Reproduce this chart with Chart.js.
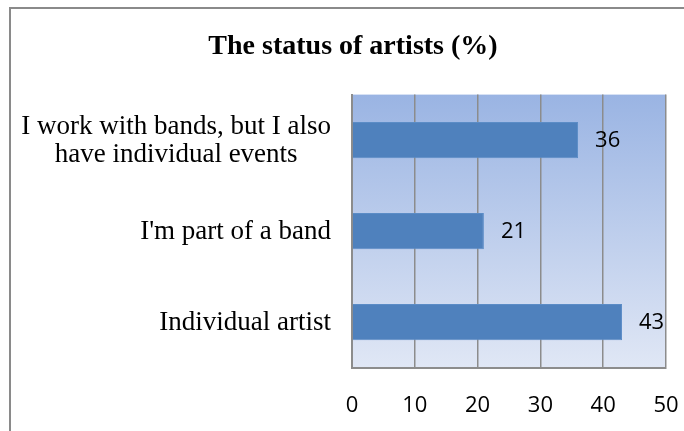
<!DOCTYPE html>
<html lang="en">
<head>
    <meta charset="UTF-8">
    <title>The status of artists (%)</title>
    <script src="https://cdn.jsdelivr.net/npm/chart.js"></script>
    <style>
        body {
            margin: 0;
            background: white;
            overflow: hidden;
        }
        .frame {
            position: absolute;
            left: 9px;
            top: 7px;
            width: 800px;
            height: 500px;
            border-left: 2px solid #8a8a8a;
            border-top: 2px solid #8a8a8a;
        }
        #statusChart {
            position: absolute;
            left: 0;
            top: 0;
        }
    </style>
</head>
<body>
    <div class="frame"></div>
    <canvas id="statusChart" width="706" height="431"></canvas>

    <script>
        const categories = [
            ["I work with bands, but I also", "have individual events"],
            "I'm part of a band",
            "Individual artist"
        ];
        const shares = [36, 21, 43];
        const xTicks = [0, 10, 20, 30, 40, 50];

        const gridColor = "#8c8c8c";

        // gradient behind the plot area
        const plotBackground = {
            id: "plotBackground",
            beforeDraw(chart) {
                const { ctx, chartArea: a } = chart;
                const g = ctx.createLinearGradient(0, a.top, 0, a.bottom);
                g.addColorStop(0, "#9ab4e3");
                g.addColorStop(1, "#e0e7f5");
                ctx.save();
                ctx.fillStyle = g;
                ctx.fillRect(a.left, a.top, a.right - a.left, a.bottom - a.top);
                ctx.restore();
            }
        };

        // category labels: right aligned, multi-line ones centred on their widest line
        const categoryLabels = {
            id: "categoryLabels",
            afterDraw(chart) {
                const { ctx } = chart;
                const yScale = chart.scales.y;
                const rightEdge = 331;
                const lineH = 28;
                ctx.save();
                ctx.font = "27px 'Liberation Serif'";
                ctx.fillStyle = "#000";
                ctx.textBaseline = "middle";
                ctx.textAlign = "center";
                chart.data.labels.forEach((label, i) => {
                    const lines = Array.isArray(label) ? label : [label];
                    const maxW = Math.max(...lines.map(l => ctx.measureText(l).width));
                    const cx = rightEdge - maxW / 2;
                    const cy = yScale.getPixelForValue(i);
                    lines.forEach((line, j) => {
                        ctx.fillText(line, cx, cy + 1 + (j - (lines.length - 1) / 2) * lineH);
                    });
                });
                ctx.restore();
            }
        };

        // value labels to the right of each bar
        const valueLabels = {
            id: "valueLabels",
            afterDatasetsDraw(chart) {
                const { ctx } = chart;
                const meta = chart.getDatasetMeta(0);
                ctx.save();
                ctx.font = "22px 'Open Sans'";
                ctx.fillStyle = "#000";
                ctx.textBaseline = "middle";
                ctx.textAlign = "left";
                meta.data.forEach((bar, i) => {
                    ctx.fillText(String(chart.data.datasets[0].data[i]), bar.x + 17, bar.y + 1);
                });
                ctx.restore();
            }
        };

        const ctx = document.getElementById("statusChart").getContext("2d");
        new Chart(ctx, {
            type: "bar",
            data: {
                labels: categories,
                datasets: [{
                    data: shares,
                    backgroundColor: "#4f81bd",
                    borderColor: "#5b8cc6",
                    borderWidth: 1,
                    categoryPercentage: 1,
                    barPercentage: 0.4
                }]
            },
            options: {
                indexAxis: "y",
                responsive: false,
                animation: false,
                layout: { padding: { left: 40, right: 40, top: 0, bottom: -13 } },
                plugins: {
                    legend: { display: false },
                    tooltip: { enabled: false },
                    title: {
                        display: true,
                        text: "The status of artists (%)",
                        color: "#000",
                        font: { family: "'Liberation Serif'", size: 28, weight: "bold" },
                        padding: { top: 30, bottom: 31 }
                    }
                },
                scales: {
                    x: {
                        min: 0,
                        max: 50,
                        afterBuildTicks(scale) {
                            scale.ticks = xTicks.map(v => ({ value: v }));
                        },
                        ticks: {
                            color: "#000",
                            font: { family: "'Open Sans'", size: 22 },
                            padding: 25,
                            maxRotation: 0
                        },
                        grid: { color: gridColor, lineWidth: 1.5, drawTicks: false },
                        border: { display: true, color: gridColor, width: 2 }
                    },
                    y: {
                        ticks: { display: false },
                        grid: { display: false },
                        border: { display: true, color: gridColor, width: 2 },
                        afterFit(scale) {
                            scale.width = 312;
                        }
                    }
                }
            },
            plugins: [plotBackground, categoryLabels, valueLabels]
        });
    </script>
</body>
</html>
